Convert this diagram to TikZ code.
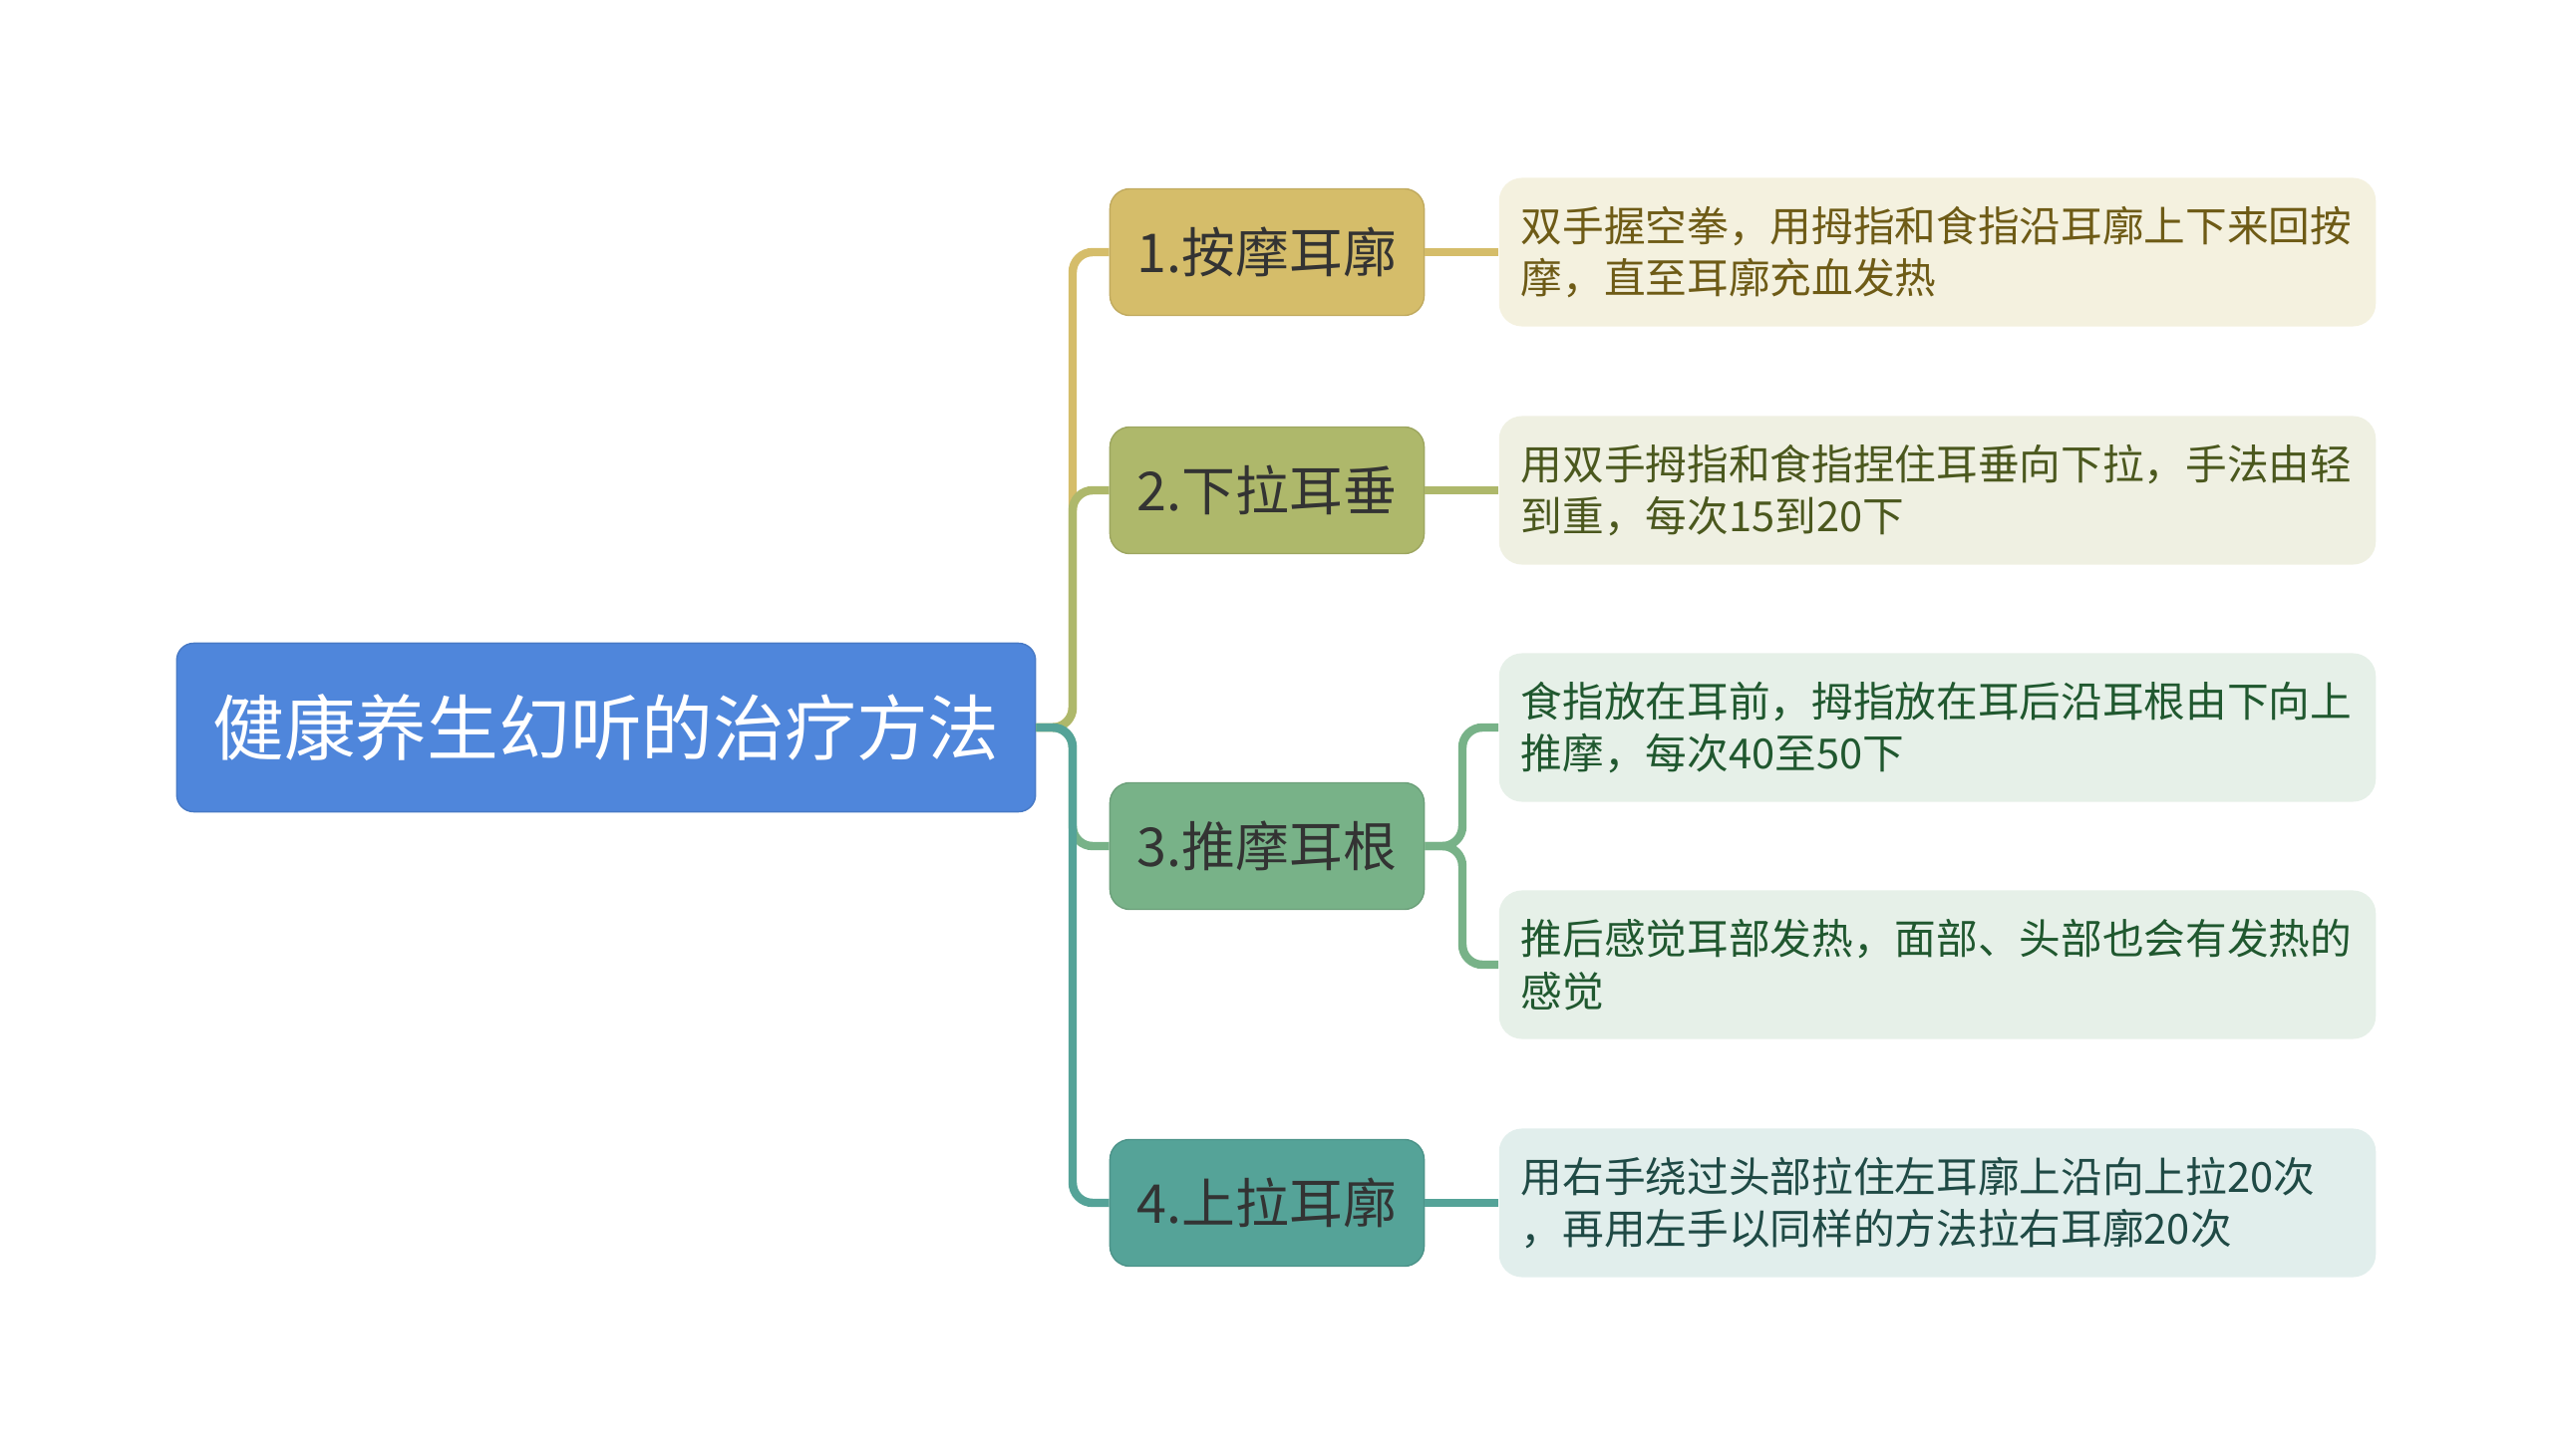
\documentclass[tikz,border=0pt]{standalone}
\usepackage{fontspec}
\usepackage{xcolor}
\setmainfont{Noto Sans CJK SC}

\definecolor{rootblue}{HTML}{4F86DB}
\definecolor{goldA}{HTML}{D5BD6A}
\definecolor{oliveA}{HTML}{AEB86B}
\definecolor{greenA}{HTML}{78B288}
\definecolor{tealA}{HTML}{55A398}
\definecolor{goldL}{HTML}{F4F1DF}
\definecolor{oliveL}{HTML}{EFF0E2}
\definecolor{greenL}{HTML}{E6F0E8}
\definecolor{tealL}{HTML}{E1EEEC}
\definecolor{goldT}{HTML}{6E5B16}
\definecolor{oliveT}{HTML}{4B581E}
\definecolor{greenT}{HTML}{20582F}
\definecolor{tealT}{HTML}{1F4A45}

\tikzset{
  rootbox/.style={rounded corners=0.17cm, fill=rootblue, draw=rootblue!90!black, line width=0.4pt,
    minimum width=8.61cm, minimum height=1.69cm, text=white,
    font=\fontsize{20.4pt}{24pt}\selectfont},
  branchbox/.style={rounded corners=0.2cm, fill=#1, draw=#1!90!black, line width=0.4pt,
    minimum width=3.15cm, minimum height=1.27cm, text={black!80},
    font=\fontsize{15.3pt}{18pt}\selectfont},
  leafbox/.style 2 args={rounded corners=0.23cm, fill=#1, text=#2,
    text width=8.35cm, inner xsep=0.22cm, minimum height=1.49cm, align=left,
    font=\fontsize{11.85pt}{14.9pt}\selectfont},
  link/.style={draw=#1, line width=2.4pt, rounded corners=0.2cm},
}

\begin{document}
\begin{tikzpicture}[x=0.01cm,y=-0.01cm]

  % Parameters
  \def\trunkx{1076}
  \def\subx{1467}
  \def\brx{1271}
  \def\lfx{1943.5}
  \useasboundingbox (0,0) rectangle (2560,1461);

  % root
  \node[rootbox] (root) at (608,730) {健康养生幻听的治疗方法};

  % branches
  \node[branchbox=goldA]  (b1) at (\brx,253) {1.按摩耳廓};
  \node[branchbox=oliveA] (b2) at (\brx,492) {2.下拉耳垂};
  \node[branchbox=greenA] (b3) at (\brx,849) {3.推摩耳根};
  \node[branchbox=tealA]  (b4) at (\brx,1207) {4.上拉耳廓};

  % leaves
  \node[leafbox={goldL}{goldT}]   (l1)  at (\lfx,253)  {双手握空拳，用拇指和食指沿耳廓上下来回按\\摩，直至耳廓充血发热};
  \node[leafbox={oliveL}{oliveT}] (l2)  at (\lfx,492)  {用双手拇指和食指捏住耳垂向下拉，手法由轻\\到重，每次15到20下};
  \node[leafbox={greenL}{greenT}] (l3a) at (\lfx,730)  {食指放在耳前，拇指放在耳后沿耳根由下向上\\推摩，每次40至50下};
  \node[leafbox={greenL}{greenT}] (l3b) at (\lfx,968)  {推后感觉耳部发热，面部、头部也会有发热的\\感觉};
  \node[leafbox={tealL}{tealT}]   (l4)  at (\lfx,1207) {用右手绕过头部拉住左耳廓上沿向上拉20次\\，再用左手以同样的方法拉右耳廓20次};

  % root to branches
  \coordinate (trunk) at (\trunkx,730);
  \foreach \b/\c in {b1/goldA,b2/oliveA,b3/greenA,b4/tealA} {
    \draw[link=\c] (root.east) -- (trunk) |- (\b.west);
  }

  % branches to leaves
  \draw[link=goldA]  (b1.east) -- (l1.west);
  \draw[link=oliveA] (b2.east) -- (l2.west);
  \coordinate (sub) at (\subx,849);
  \draw[link=greenA] (b3.east) -- (sub) |- (l3a.west);
  \draw[link=greenA] (b3.east) -- (sub) |- (l3b.west);
  \draw[link=tealA]  (b4.east) -- (l4.west);

\end{tikzpicture}
\end{document}
